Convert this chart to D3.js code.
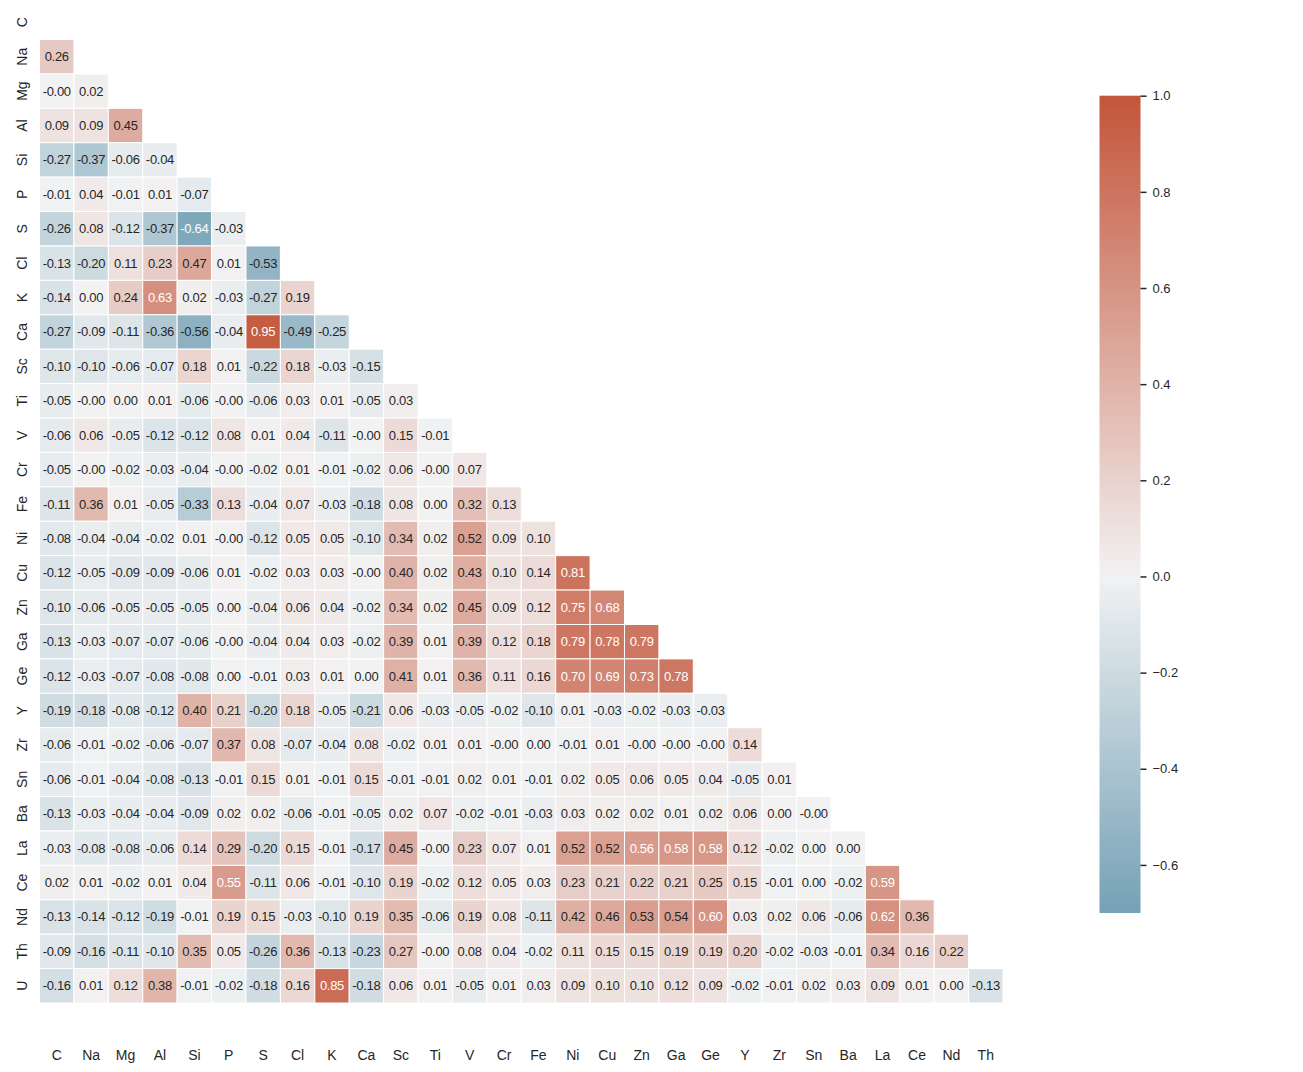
<!DOCTYPE html>
<html>
<head>
<meta charset="utf-8">
<script src="https://cdn.jsdelivr.net/npm/d3@7/dist/d3.min.js"></script>
<style>
  html, body { margin: 0; padding: 0; background: #ffffff; }
  svg { display: block; font-family: "Liberation Sans", Arial, Helvetica, sans-serif; }
</style>
</head>
<body>
<svg id="chart" width="1303" height="1072"></svg>
<script>
// ---------------- DATA ----------------
const rowLabels = ["C","Na","Mg","Al","Si","P","S","Cl","K","Ca","Sc","Ti","V","Cr","Fe","Ni","Cu","Zn","Ga","Ge","Y","Zr","Sn","Ba","La","Ce","Nd","Th","U"];
const colLabels = ["C","Na","Mg","Al","Si","P","S","Cl","K","Ca","Sc","Ti","V","Cr","Fe","Ni","Cu","Zn","Ga","Ge","Y","Zr","Sn","Ba","La","Ce","Nd","Th"];

// lower-triangle correlations (-0.00 kept as negative zero, as printed in the reference)
const row_C  = [];
const row_Na = [0.26];
const row_Mg = [-0.00, 0.02];
const row_Al = [0.09, 0.09, 0.45];
const row_Si = [-0.27, -0.37, -0.06, -0.04];
const row_P  = [-0.01, 0.04, -0.01, 0.01, -0.07];
const row_S  = [-0.26, 0.08, -0.12, -0.37, -0.64, -0.03];
const row_Cl = [-0.13, -0.20, 0.11, 0.23, 0.47, 0.01, -0.53];
const row_K  = [-0.14, 0.00, 0.24, 0.63, 0.02, -0.03, -0.27, 0.19];
const row_Ca = [-0.27, -0.09, -0.11, -0.36, -0.56, -0.04, 0.95, -0.49, -0.25];
const row_Sc = [-0.10, -0.10, -0.06, -0.07, 0.18, 0.01, -0.22, 0.18, -0.03, -0.15];
const row_Ti = [-0.05, -0.00, 0.00, 0.01, -0.06, -0.00, -0.06, 0.03, 0.01, -0.05, 0.03];
const row_V  = [-0.06, 0.06, -0.05, -0.12, -0.12, 0.08, 0.01, 0.04, -0.11, -0.00, 0.15, -0.01];
const row_Cr = [-0.05, -0.00, -0.02, -0.03, -0.04, -0.00, -0.02, 0.01, -0.01, -0.02, 0.06, -0.00, 0.07];
const row_Fe = [-0.11, 0.36, 0.01, -0.05, -0.33, 0.13, -0.04, 0.07, -0.03, -0.18, 0.08, 0.00, 0.32, 0.13];
const row_Ni = [-0.08, -0.04, -0.04, -0.02, 0.01, -0.00, -0.12, 0.05, 0.05, -0.10, 0.34, 0.02, 0.52, 0.09, 0.10];
const row_Cu = [-0.12, -0.05, -0.09, -0.09, -0.06, 0.01, -0.02, 0.03, 0.03, -0.00, 0.40, 0.02, 0.43, 0.10, 0.14, 0.81];
const row_Zn = [-0.10, -0.06, -0.05, -0.05, -0.05, 0.00, -0.04, 0.06, 0.04, -0.02, 0.34, 0.02, 0.45, 0.09, 0.12, 0.75, 0.68];
const row_Ga = [-0.13, -0.03, -0.07, -0.07, -0.06, -0.00, -0.04, 0.04, 0.03, -0.02, 0.39, 0.01, 0.39, 0.12, 0.18, 0.79, 0.78, 0.79];
const row_Ge = [-0.12, -0.03, -0.07, -0.08, -0.08, 0.00, -0.01, 0.03, 0.01, 0.00, 0.41, 0.01, 0.36, 0.11, 0.16, 0.70, 0.69, 0.73, 0.78];
const row_Y  = [-0.19, -0.18, -0.08, -0.12, 0.40, 0.21, -0.20, 0.18, -0.05, -0.21, 0.06, -0.03, -0.05, -0.02, -0.10, 0.01, -0.03, -0.02, -0.03, -0.03];
const row_Zr = [-0.06, -0.01, -0.02, -0.06, -0.07, 0.37, 0.08, -0.07, -0.04, 0.08, -0.02, 0.01, 0.01, -0.00, 0.00, -0.01, 0.01, -0.00, -0.00, -0.00, 0.14];
const row_Sn = [-0.06, -0.01, -0.04, -0.08, -0.13, -0.01, 0.15, 0.01, -0.01, 0.15, -0.01, -0.01, 0.02, 0.01, -0.01, 0.02, 0.05, 0.06, 0.05, 0.04, -0.05, 0.01];
const row_Ba = [-0.13, -0.03, -0.04, -0.04, -0.09, 0.02, 0.02, -0.06, -0.01, -0.05, 0.02, 0.07, -0.02, -0.01, -0.03, 0.03, 0.02, 0.02, 0.01, 0.02, 0.06, 0.00, -0.00];
const row_La = [-0.03, -0.08, -0.08, -0.06, 0.14, 0.29, -0.20, 0.15, -0.01, -0.17, 0.45, -0.00, 0.23, 0.07, 0.01, 0.52, 0.52, 0.56, 0.58, 0.58, 0.12, -0.02, 0.00, 0.00];
const row_Ce = [0.02, 0.01, -0.02, 0.01, 0.04, 0.55, -0.11, 0.06, -0.01, -0.10, 0.19, -0.02, 0.12, 0.05, 0.03, 0.23, 0.21, 0.22, 0.21, 0.25, 0.15, -0.01, 0.00, -0.02, 0.59];
const row_Nd = [-0.13, -0.14, -0.12, -0.19, -0.01, 0.19, 0.15, -0.03, -0.10, 0.19, 0.35, -0.06, 0.19, 0.08, -0.11, 0.42, 0.46, 0.53, 0.54, 0.60, 0.03, 0.02, 0.06, -0.06, 0.62, 0.36];
const row_Th = [-0.09, -0.16, -0.11, -0.10, 0.35, 0.05, -0.26, 0.36, -0.13, -0.23, 0.27, -0.00, 0.08, 0.04, -0.02, 0.11, 0.15, 0.15, 0.19, 0.19, 0.20, -0.02, -0.03, -0.01, 0.34, 0.16, 0.22];
const row_U  = [-0.16, 0.01, 0.12, 0.38, -0.01, -0.02, -0.18, 0.16, 0.85, -0.18, 0.06, 0.01, -0.05, 0.01, 0.03, 0.09, 0.10, 0.10, 0.12, 0.09, -0.02, -0.01, 0.02, 0.03, 0.09, 0.01, 0.00, -0.13];

const rows = [row_C,row_Na,row_Mg,row_Al,row_Si,row_P,row_S,row_Cl,row_K,row_Ca,row_Sc,row_Ti,row_V,row_Cr,row_Fe,row_Ni,row_Cu,row_Zn,row_Ga,row_Ge,row_Y,row_Zr,row_Sn,row_Ba,row_La,row_Ce,row_Nd,row_Th,row_U];

const colorbarTicks = [-0.6, -0.4, -0.2, 0.0, 0.2, 0.4, 0.6, 0.8, 1.0];
const vmin = -0.7, vmax = 1.0;

(function draw() {
  // colormap: seaborn diverging_palette(230, 20), centered at 0
  const color = d3.scaleLinear()
    .domain([-1, -0.0078125, 0, 0.0078125, 1])
    .range(["rgb(64,126,156)", "rgb(239,241,242)", "rgb(242,242,242)", "rgb(242,240,240)", "rgb(195,85,58)"])
    .interpolate(d3.interpolateRgb)
    .clamp(true);

  function relLum(c) {
    const lin = v => { v /= 255; return v <= 0.03928 ? v / 12.92 : Math.pow((v + 0.055) / 1.055, 2.4); };
    const r = d3.rgb(c);
    return 0.2126 * lin(r.r) + 0.7152 * lin(r.g) + 0.0722 * lin(r.b);
  }
  const fmt = v => (Object.is(v, -0) || v < 0 ? "-" : "") + Math.abs(v).toFixed(2);

  const svg = d3.select("#chart");
  const hmLeft = 39.5, hmRight = 1003, hmBottom = 1003;
  const cellSize = (hmRight - hmLeft) / colLabels.length;
  const hmTop = hmBottom - cellSize * rowLabels.length;

  const x = d3.scaleBand().domain(colLabels).range([hmLeft, hmRight]);
  const y = d3.scaleBand().domain(rowLabels).range([hmTop, hmBottom]);

  const cells = [];
  rows.forEach((vals, i) => vals.forEach((v, j) => cells.push({ r: rowLabels[i], c: colLabels[j], v })));

  const g = svg.append("g");
  g.selectAll("rect.cell").data(cells).enter().append("rect")
    .attr("class", "cell")
    .attr("x", d => x(d.c))
    .attr("y", d => y(d.r))
    .attr("width", x.bandwidth())
    .attr("height", y.bandwidth())
    .attr("fill", d => color(d.v))
    .attr("stroke", "#ffffff")
    .attr("stroke-width", 1);

  g.selectAll("text.ann").data(cells).enter().append("text")
    .attr("class", "ann")
    .attr("x", d => x(d.c) + x.bandwidth() / 2)
    .attr("y", d => y(d.r) + y.bandwidth() / 2)
    .attr("text-anchor", "middle")
    .attr("dominant-baseline", "central")
    .attr("font-size", 13)
    .attr("letter-spacing", "-0.3px")
    .attr("fill", d => relLum(color(d.v)) > 0.408 ? "rgb(38,38,38)" : "#ffffff")
    .text(d => fmt(d.v));

  // x tick labels
  const xAxis = d3.axisBottom(x).tickSize(0).tickPadding(0);
  const xg = svg.append("g").attr("transform", "translate(0,1050)").call(xAxis);
  xg.select(".domain").remove();
  xg.selectAll("text").attr("font-size", 14).attr("fill", "rgb(38,38,38)")
    .attr("font-family", "Liberation Sans, Arial, sans-serif").attr("dy", "0.71em");

  // y tick labels (rotated)
  const yAxis = d3.axisLeft(y).tickSize(0).tickPadding(0);
  const yg = svg.append("g").attr("transform", "translate(21.5,0)").call(yAxis);
  yg.select(".domain").remove();
  yg.selectAll(".tick text")
    .attr("font-size", 14).attr("fill", "rgb(38,38,38)")
    .attr("font-family", "Liberation Sans, Arial, sans-serif")
    .attr("x", 0).attr("dy", null)
    .attr("text-anchor", "middle")
    .attr("dominant-baseline", "central")
    .attr("transform", "rotate(-90)");

  // colorbar
  const cbX = 1099.5, cbW = 41, cbTop = 95.7, cbBottom = 913;
  const cbScale = d3.scaleLinear().domain([vmin, vmax]).range([cbBottom, cbTop]);

  const defs = svg.append("defs");
  const grad = defs.append("linearGradient").attr("id", "cbgrad")
    .attr("x1", 0).attr("y1", 1).attr("x2", 0).attr("y2", 0);
  const nStops = 170;
  const stopVals = d3.range(nStops + 1).map(k => vmin + (vmax - vmin) * k / nStops)
    .concat([-0.0078125, 0, 0.0078125]).sort((a, b) => a - b);
  stopVals.forEach(v => {
    grad.append("stop").attr("offset", (v - vmin) / (vmax - vmin)).attr("stop-color", color(v));
  });

  svg.append("rect")
    .attr("x", cbX).attr("y", cbTop)
    .attr("width", cbW).attr("height", cbBottom - cbTop)
    .attr("fill", "url(#cbgrad)");

  const cbAxis = d3.axisRight(cbScale).tickValues(colorbarTicks).tickSize(6).tickPadding(6)
    .tickFormat(d => d3.format(".1f")(d).replace("-", "\u2212"));
  const cbg = svg.append("g").attr("transform", `translate(${cbX + cbW},0)`).call(cbAxis);
  cbg.select(".domain").remove();
  cbg.selectAll("line").attr("stroke", "rgb(38,38,38)").attr("stroke-width", 1.5);
  cbg.selectAll("text").attr("font-size", 13).attr("fill", "rgb(38,38,38)")
    .attr("font-family", "Liberation Sans, Arial, sans-serif");
})();
</script>
</body>
</html>
